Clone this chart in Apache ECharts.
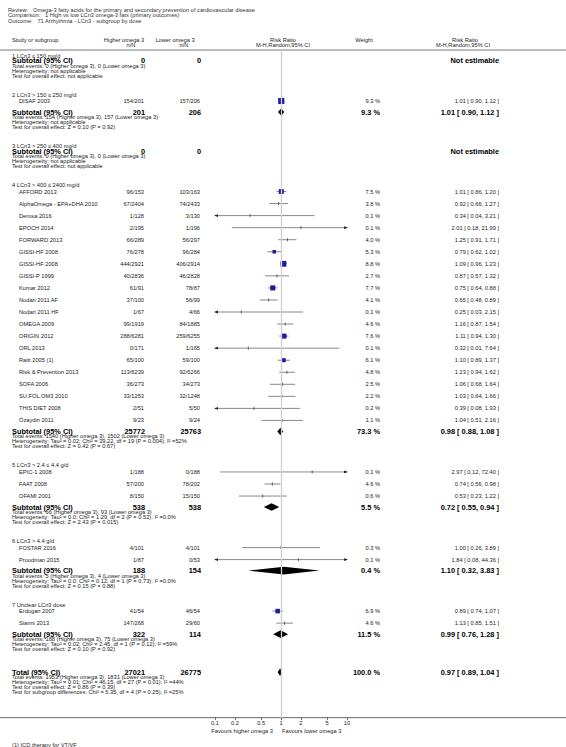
<!DOCTYPE html>
<html><head><meta charset="utf-8">
<script src="https://cdn.jsdelivr.net/npm/echarts@6/dist/echarts.min.js"></script>
<style>html,body{margin:0;padding:0;background:#fff}#c{width:566px;height:747px}</style>
</head><body><div id="c"></div>
<script>
// ---------------- DATA ----------------
const titleLines = [
  "Review:   Omega-3 fatty acids for the primary and secondary prevention of cardiovascular disease",
  "Comparison:   1 High vs low LCn3 omega-3 fats (primary outcomes)",
  "Outcome:   71 Arrhythmia - LCn3 - subgroup by dose"
];
const groupNames = [
  "1 LCn3 \u2264 150 mg/d",
  "2 LCn3 > 150 \u2264 250 mg/d",
  "3 LCn3 > 250 \u2264 400 mg/d",
  "4 LCn3 > 400 \u2264 2400 mg/d",
  "5 LCn3 > 2.4 \u2264 4.4 g/d",
  "6 LCn3 > 4.4 g/d",
  "7 Unclear LCn3 dose"
];
const studyNames = ["DISAF 2003","AFFORD 2013","AlphaOmega - EPA+DHA 2010","Derosa 2016","EPOCH 2014","FORWARD 2013","GISSI-HF 2008","GISSI-HF 2008","GISSI-P 1999","Kumar 2012","Nodari 2011 AF","Nodari 2011 HF","OMEGA 2009","ORIGIN 2012","ORL 2013","Raitt 2005 (1)","Risk & Prevention 2013","SOFA 2006","SU.FOL.OM3 2010","THIS DIET 2008","\u00D6zaydin 2011","EPIC-1 2008","FAAT 2008","OFAMI 2001","FOSTAR 2016","Proudman 2015","Erdogan 2007","Sianni 2013"];
const studyGroup = [1,3,3,3,3,3,3,3,3,3,3,3,3,3,3,3,3,3,3,3,3,4,4,4,5,5,6,6];
const higherEvents = [154,96,67,1,2,66,76,444,40,61,37,1,99,288,0,65,113,36,33,2,9,1,57,8,4,1,41,147];
const higherTotal  = [201,153,2404,128,195,289,278,2921,2836,91,100,67,1919,6281,171,100,6239,273,1253,51,23,188,200,150,101,87,54,268];
const lowerEvents  = [157,103,74,3,1,56,96,406,46,78,56,4,84,259,1,59,92,34,32,5,9,0,78,15,4,0,46,29];
const lowerTotal   = [206,163,2433,130,196,297,284,2914,2828,87,99,66,1885,6255,165,100,6266,273,1248,50,24,188,202,150,101,53,54,60];
const studyWeight  = [9.3,7.5,3.8,0.1,0.1,4.0,5.3,8.8,2.7,7.7,4.1,0.1,4.6,7.6,0.1,6.1,4.8,2.5,2.2,0.2,1.1,0.1,4.6,0.6,0.3,0.1,6.9,4.6];
const studyRR      = [1.01,1.01,0.92,0.34,2.01,1.25,0.79,1.09,0.87,0.75,0.65,0.25,1.16,1.11,0.32,1.10,1.23,1.06,1.03,0.39,1.04,2.97,0.74,0.53,1.00,1.84,0.89,1.13];
const studyLow     = [0.90,0.86,0.66,0.04,0.18,0.91,0.62,0.96,0.57,0.64,0.48,0.03,0.87,0.94,0.01,0.89,0.94,0.68,0.64,0.08,0.51,0.12,0.56,0.23,0.26,0.08,0.74,0.85];
const studyHigh    = [1.12,1.20,1.27,3.21,21.99,1.71,1.02,1.23,1.32,0.88,0.89,2.15,1.54,1.30,7.64,1.37,1.62,1.64,1.66,1.93,2.16,72.40,0.98,1.22,3.89,44.36,1.07,1.51];

const subHigherN   = [0,201,0,25772,538,188,322];
const subLowerN    = [0,206,0,25763,538,154,114];
const subWeight    = [null,9.3,null,73.3,5.5,0.4,11.5];
const subRR        = [null,1.01,null,0.98,0.72,1.10,0.99];
const subLow       = [null,0.90,null,0.88,0.55,0.32,0.76];
const subHigh      = [null,1.12,null,1.08,0.94,3.83,1.28];
const subEventsHigher = [0,154,0,1540,66,5,188];
const subEventsLower  = [0,157,0,1502,93,4,75];
const subHeterogeneity = [
  "Heterogeneity: not applicable",
  "Heterogeneity: not applicable",
  "Heterogeneity: not applicable",
  "Heterogeneity: Tau\u00B2 = 0.02; Chi\u00B2 = 39.22, df = 19 (P = 0.004); I\u00B2 =52%",
  "Heterogeneity: Tau\u00B2 = 0.0; Chi\u00B2 = 1.29, df = 2 (P = 0.52); I\u00B2 =0.0%",
  "Heterogeneity: Tau\u00B2 = 0.0; Chi\u00B2 = 0.12, df = 1 (P = 0.73); I\u00B2 =0.0%",
  "Heterogeneity: Tau\u00B2 = 0.02; Chi\u00B2 = 2.45, df = 1 (P = 0.12); I\u00B2 =59%"
];
const subOverall = [
  "Test for overall effect: not applicable",
  "Test for overall effect: Z = 0.10 (P = 0.92)",
  "Test for overall effect: not applicable",
  "Test for overall effect: Z = 0.42 (P = 0.67)",
  "Test for overall effect: Z = 2.43 (P = 0.015)",
  "Test for overall effect: Z = 0.15 (P = 0.88)",
  "Test for overall effect: Z = 0.10 (P = 0.92)"
];
const totalN = [27021, 26775];
const totalWeight = 100.0;
const totalRR = [0.97, 0.89, 1.04];
const totalEvents = [1953, 1831];
const totalLines = [
  "Heterogeneity: Tau\u00B2 = 0.01; Chi\u00B2 = 46.15, df = 27 (P = 0.01); I\u00B2 =44%",
  "Test for overall effect: Z = 0.86 (P = 0.39)",
  "Test for subgroup differences: Chi\u00B2 = 5.35, df = 4 (P = 0.25), I\u00B2 =25%"
];
const axisTickValues = [0.1,0.2,0.5,1,2,5,10];
const axisTickLabels = ["0.1","0.2","0.5","1","2","5","10"];
const favoursLeft = "Favours higher omega 3";
const favoursRight = "Favours lower omega 3";
const footnote = "(1) ICD therapy for VT/VF";

// ---------------- LAYOUT ----------------
const W = 566, H = 747;
const FF = "'Liberation Sans', Arial, Helvetica, sans-serif";
const FS = 5.7, FSB = 7.4;
const L = { headerLine: 50, firstHeader: 55.5, headerToStudy: 6.5, studyStep: 12.05, studyToSub: 11,
            headerToSub: 5, infoStep: 5, groupGap: 19, totalGap: 23, axisGap: 25.5 };
const COL = { left: 12, study: 19, higher: 144, lower: 200, weight: 380, rr: 499 };
const PLOT = { left: 215, width: 132 };

const studyY = new Array(studyNames.length);
const groupY = [], subY = [];
let y = L.firstHeader;
for (let g = 0; g < groupNames.length; g++) {
  groupY[g] = y;
  const idx = studyGroup.map((gg, i) => gg === g ? i : -1).filter(i => i >= 0);
  if (idx.length) {
    let sy = y + L.headerToStudy;
    idx.forEach((i, k) => { studyY[i] = sy + k * L.studyStep; });
    subY[g] = studyY[idx[idx.length - 1]] + L.studyToSub;
  } else {
    subY[g] = y + L.headerToSub;
  }
  y = subY[g] + 3 * L.infoStep + L.groupGap;
}
const totalY = subY[groupNames.length - 1] + 3 * L.infoStep + L.totalGap;
const axisY = totalY + 4 * L.infoStep + L.axisGap;

const fmt2 = v => v.toFixed(2);
const ciText = (r, a, b) => `${fmt2(r)} [ ${fmt2(a)}, ${fmt2(b)} ]`;
const lg = v => Math.log10(v);

// ---------------- TEXT ----------------
const texts = [];
function T(str, x, yy, align, bold, size, color) {
  texts.push({ type: 'text', silent: true, x: x, y: yy, style: {
    text: str, fill: color || (bold ? '#000' : '#222'),
    font: `${bold ? 'bold ' : ''}${size || (bold ? FSB : FS)}px ${FF}`,
    textAlign: align || 'left', textVerticalAlign: 'middle', align: align || 'left', verticalAlign: 'middle'
  }});
}
titleLines.forEach((t, i) => T(t, 8, 9.8 + i * 5.6, 'left', false, FS, '#333'));
T("Study or subgroup", COL.left, 40);
T("Higher omega 3", 124, 40, 'center');
T("n/N", 131, 45, 'center');
T("Lower omega 3", 175, 40, 'center');
T("n/N", 184, 45, 'center');
T("Risk Ratio", 283, 40, 'center');
T("M-H,Random,95% CI", 283, 45, 'center');
T("Weight", 364, 40, 'center');
T("Risk Ratio", 465, 40, 'center');
T("M-H,Random,95% CI", 463, 45, 'center');

for (let g = 0; g < groupNames.length; g++) {
  T(groupNames[g], COL.left, groupY[g]);
  T("Subtotal (95% CI)", COL.left, subY[g], 'left', true);
  T(String(subHigherN[g]), COL.higher + 1, subY[g], 'right', true);
  T(String(subLowerN[g]), COL.lower + 1, subY[g], 'right', true);
  if (subRR[g] == null) {
    T("Not estimable", COL.rr, subY[g], 'right', true);
  } else {
    T(subWeight[g].toFixed(1) + " %", COL.weight, subY[g], 'right', true);
    T(ciText(subRR[g], subLow[g], subHigh[g]), COL.rr, subY[g], 'right', true);
  }
  T(`Total events: ${subEventsHigher[g]} (Higher omega 3), ${subEventsLower[g]} (Lower omega 3)`, COL.left, subY[g] + L.infoStep);
  T(subHeterogeneity[g], COL.left, subY[g] + 2 * L.infoStep);
  T(subOverall[g], COL.left, subY[g] + 3 * L.infoStep);
}
studyNames.forEach((n, i) => {
  T(n, COL.study, studyY[i]);
  T(`${higherEvents[i]}/${higherTotal[i]}`, COL.higher, studyY[i], 'right');
  T(`${lowerEvents[i]}/${lowerTotal[i]}`, COL.lower, studyY[i], 'right');
  T(studyWeight[i].toFixed(1) + " %", COL.weight, studyY[i], 'right');
  T(ciText(studyRR[i], studyLow[i], studyHigh[i]), COL.rr, studyY[i], 'right');
});
T("Total (95% CI)", COL.left, totalY, 'left', true);
T(String(totalN[0]), COL.higher + 1, totalY, 'right', true);
T(String(totalN[1]), COL.lower + 1, totalY, 'right', true);
T(totalWeight.toFixed(1) + " %", COL.weight, totalY, 'right', true);
T(ciText(totalRR[0], totalRR[1], totalRR[2]), COL.rr, totalY, 'right', true);
T(`Total events: ${totalEvents[0]} (Higher omega 3), ${totalEvents[1]} (Lower omega 3)`, COL.left, totalY + L.infoStep);
totalLines.forEach((t, i) => T(t, COL.left, totalY + (i + 2) * L.infoStep));
T(favoursLeft, 273, axisY + 13, 'right');
T(favoursRight, 282, axisY + 13, 'left');
T(footnote, COL.left, axisY + 27);

const lines = [
  { type: 'line', silent: true, shape: { x1: 0, y1: L.headerLine, x2: W, y2: L.headerLine }, style: { stroke: '#555', lineWidth: 0.8 } },
  { type: 'line', silent: true, shape: { x1: 0, y1: axisY, x2: W, y2: axisY }, style: { stroke: '#444', lineWidth: 0.8 } }
];

// ---------------- SERIES DATA ----------------
const studyData = studyNames.map((n, i) => [lg(studyRR[i]), studyY[i], lg(studyLow[i]), lg(studyHigh[i]), studyWeight[i]]);
const diamondData = [];
for (let g = 0; g < groupNames.length; g++) {
  if (subRR[g] != null) diamondData.push([lg(subRR[g]), subY[g], lg(subLow[g]), lg(subHigh[g])]);
}
diamondData.push([lg(totalRR[0]), totalY, lg(totalRR[1]), lg(totalRR[2])]);

const XMIN = lg(axisTickValues[0]), XMAX = lg(axisTickValues[axisTickValues.length - 1]);

function renderStudy(params, api) {
  const x = api.value(0), yy = api.value(1), lo = api.value(2), hi = api.value(3), w = api.value(4);
  const pL = api.coord([Math.max(lo, XMIN), yy]);
  const pR = api.coord([Math.min(hi, XMAX), yy]);
  const pC = api.coord([x, yy]);
  const ch = [];
  ch.push({ type: 'line', shape: { x1: pL[0], y1: pL[1], x2: pR[0], y2: pR[1] }, style: { stroke: '#555', lineWidth: 0.7 } });
  if (lo < XMIN) ch.push({ type: 'polygon', shape: { points: [[pL[0] - 1, pL[1]], [pL[0] + 3, pL[1] - 1.4], [pL[0] + 3, pL[1] + 1.4]] }, style: { fill: '#222' } });
  if (hi > XMAX) ch.push({ type: 'polygon', shape: { points: [[pR[0] + 1, pR[1]], [pR[0] - 3, pR[1] - 1.4], [pR[0] - 3, pR[1] + 1.4]] }, style: { fill: '#222' } });
  ch.push({ type: 'line', shape: { x1: pC[0], y1: pC[1] - 1.6, x2: pC[0], y2: pC[1] + 1.6 }, style: { stroke: '#333', lineWidth: 0.7 } });
  if (w >= 5) {
    const s = w * 0.66;
    ch.push({ type: 'rect', shape: { x: pC[0] - s / 2, y: pC[1] - s / 2, width: s, height: s }, style: { fill: '#1c1c9c' } });
  }
  return { type: 'group', children: ch };
}
function renderDiamond(params, api) {
  const x = api.value(0), yy = api.value(1), lo = api.value(2), hi = api.value(3);
  const pL = api.coord([lo, yy]), pR = api.coord([hi, yy]), pC = api.coord([x, yy]);
  const h = 3.8;
  return { type: 'polygon', shape: { points: [pL, [pC[0], pC[1] - h], pR, [pC[0], pC[1] + h]] }, style: { fill: '#000' } };
}

const chart = echarts.init(document.getElementById('c'), null, { renderer: 'svg', width: W, height: H });
const tickVals = axisTickValues.map(lg);
chart.setOption({
  animation: false,
  backgroundColor: '#fff',
  grid: { left: PLOT.left, width: PLOT.width, top: L.headerLine, height: axisY - L.headerLine },
  xAxis: {
    type: 'value', min: XMIN, max: XMAX,
    axisLine: { show: false },
    splitLine: { show: false },
    axisTick: { show: true, customValues: tickVals, length: 2.5, lineStyle: { color: '#333', width: 0.7 } },
    axisLabel: { show: true, customValues: tickVals, margin: 2.5, fontSize: FS, fontFamily: FF, color: '#222',
      formatter: v => { const i = tickVals.findIndex(t => Math.abs(t - v) < 1e-6); return i >= 0 ? axisTickLabels[i] : ''; } }
  },
  yAxis: { type: 'value', inverse: true, min: L.headerLine, max: axisY, show: false },
  graphic: { elements: lines.concat(texts) },
  series: [
    { type: 'custom', name: 'null', data: [], renderItem: () => null,
      markLine: { silent: true, symbol: 'none', label: { show: false }, animation: false,
        lineStyle: { color: '#d0d0d0', width: 1.3, type: 'solid' }, data: [{ xAxis: 0 }] } },
    { type: 'custom', name: 'studies', data: studyData, renderItem: renderStudy, clip: false, z: 3 },
    { type: 'custom', name: 'diamonds', data: diamondData, renderItem: renderDiamond, clip: false, z: 4 }
  ]
});
</script></body></html>
